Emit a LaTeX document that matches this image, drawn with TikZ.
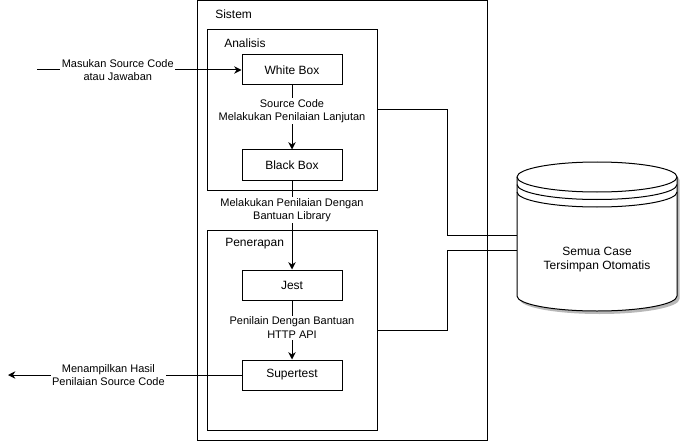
\documentclass[tikz,border=0pt]{standalone}
\usepackage{fontspec}
\setmainfont{Liberation Sans}
\usetikzlibrary{arrows.meta,calc}
\begin{document}
\begin{tikzpicture}[x=0.75pt,y=-0.75pt,
  every node/.style={font=\fontsize{9}{10.8}\selectfont, inner sep=0pt},
  box/.style={draw, line width=0.75pt, minimum width=75pt, minimum height=22.5pt},
  frame/.style={draw, line width=0.75pt},
  ttl/.style={anchor=west},
  elabel/.style={font=\fontsize{8.25}{10.2}\selectfont, fill=white, align=center, inner sep=1pt},
  conn/.style={line width=0.75pt},
  arr/.style={conn, -{Stealth[length=5.5pt,width=5.5pt]}},
  cyl/.style={line width=0.75pt},
]
\useasboundingbox (0,0) rectangle (681,442);

% frames
\node[frame, minimum width=217.5pt, minimum height=330pt] (sis) at (342,220.5) {};
\node[ttl] (sislbl) at (215,14) {Sistem};
\node[frame, minimum width=127.5pt, minimum height=120pt] (ana) at (292,110) {};
\node[ttl] (analbl) at (224,43) {Analisis};
\node[frame, minimum width=127.5pt, minimum height=150pt] (pen) at (292,330) {};
\node[ttl] (penlbl) at (225,244) {Penerapan};

% boxes
\node[box] (wb) at (292,70) {White Box};
\node[box] (bb) at (292,165) {Black Box};
\node[box] (jest) at (292,285) {Jest};
\node[box] (st) at (292,375) {Supertest};

% database cylinder
\node[minimum width=120pt, minimum height=111.75pt] (db) at (597,236.5) {};
\begin{scope}[shift={(2.5,3)}]
\fill[black!28] (517,177) arc[start angle=180,end angle=0,x radius=60pt,y radius=11.25pt]
  -- (677,296) arc[start angle=0,end angle=-180,x radius=60pt,y radius=11.25pt] -- cycle;
\end{scope}
\draw[cyl, fill=white] (517,177) arc[start angle=180,end angle=0,x radius=60pt,y radius=11.25pt]
  -- (677,296) arc[start angle=0,end angle=-180,x radius=60pt,y radius=11.25pt] -- cycle;
\draw[cyl] (517,177) arc[start angle=180,end angle=360,x radius=60pt,y radius=11.25pt];
\draw[cyl] (517,184.5) arc[start angle=180,end angle=360,x radius=60pt,y radius=11.25pt];
\draw[cyl] (517,192) arc[start angle=180,end angle=360,x radius=60pt,y radius=11.25pt];
\node[align=center] (dbl) at (597,259.5) {Semua Case\\Tersimpan Otomatis};

% connectors
\coordinate (in) at (37,70);
\coordinate (out) at (8,375);
\draw[arr] (in) -- node[elabel,pos=0.395]{Masukan Source Code\\atau Jawaban} (wb.west);
\draw[arr] (wb) -- node[elabel,pos=0.4]{Source Code\\Melakukan Penilaian Lanjutan} (bb);
\draw[arr] (bb) -- node[elabel,pos=0.333]{Melakukan Penilaian Dengan\\Bantuan Library} (jest);
\draw[arr] (jest) -- node[elabel,pos=0.46]{Penilain Dengan Bantuan\\HTTP API} (st);
\draw[arr] (st.west) -- node[elabel,pos=0.57]{Menampilkan Hasil\\Penilaian Source Code} (out);
\draw[conn] (ana.east) -- ++(70,0) |- ($(db.west)+(0,-1.5)$);
\draw[conn] (pen.east) -- ++(70,0) |- ($(db.west)+(0,13.5)$);
\end{tikzpicture}
\end{document}
